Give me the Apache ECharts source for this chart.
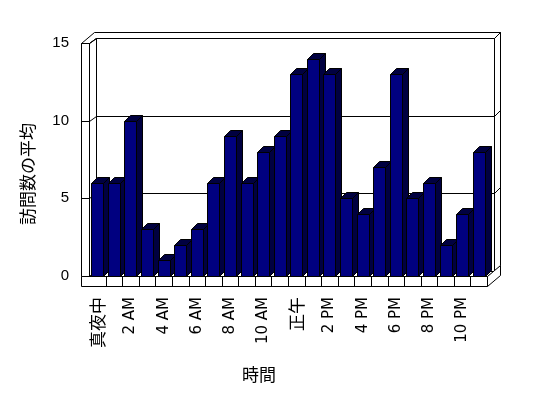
<!DOCTYPE html>
<html>
<head>
<meta charset="utf-8">
<script src="https://cdn.jsdelivr.net/npm/echarts@6/dist/echarts.min.js"></script>
<style>
html,body{margin:0;padding:0;background:#fff;}
#c{width:548px;height:398px;}
</style>
</head>
<body>
<div id="c"></div>
<script>
// ---- data ----
const categories = ['真夜中','1 AM','2 AM','3 AM','4 AM','5 AM','6 AM','7 AM','8 AM','9 AM','10 AM','11 AM',
                    '正午','1 PM','2 PM','3 PM','4 PM','5 PM','6 PM','7 PM','8 PM','9 PM','10 PM','11 PM'];
const visits = [6,6,10,3,1,2,3,6,9,6,8,9,13,14,13,5,4,7,13,5,6,2,4,8];
const yTicks = [0,5,10,15];
const xTitle = '時間';
const yTitle = '訪問数の平均';

// ---- drawing ----
const chart = echarts.init(document.getElementById('c'), null, {renderer:'canvas'});
const LINE = {stroke:'#000', lineWidth:1};
const WALL_B = [7, -5];    // back wall front plane offset
const WALL_B2 = [13, -11]; // back wall back plane offset
const WALL_T = 8;          // left wall thickness
const FLOOR_T = 10;        // floor thickness
const BAR_D = 6;           // bar depth
const BAR_W = 12;

function framePieces(params, api) {
  const cs = params.coordSys;
  const gx = Math.round(cs.x) + 0.5, gy = Math.round(cs.y) + 0.5;
  const gr = Math.round(cs.x + cs.width) + 0.5, gb = Math.round(cs.y + cs.height) + 0.5;
  const [bx, by] = WALL_B, [b2x, b2y] = WALL_B2;
  const W = WALL_T, T = FLOOR_T;
  const ch = [];
  const poly = (pts, fill) => ch.push({type:'polygon', shape:{points:pts}, style:Object.assign({fill:fill||'#fff'}, LINE)});
  const line = (x1,y1,x2,y2) => ch.push({type:'line', shape:{x1,y1,x2,y2}, style:LINE});
  poly([[gx+bx,gy+by],[gr+bx,gy+by],[gr+bx,gb+by],[gx+bx,gb+by]]);
  poly([[gr+bx,gy+by],[gr+b2x,gy+b2y],[gr+b2x,gb+b2y],[gr+bx,gb+by]]);
  poly([[gx-W,gy],[gx-W+b2x,gy+b2y],[gr+b2x,gy+b2y],[gr+bx,gy+by],[gx+bx,gy+by],[gx,gy]]);
  poly([[gx,gy],[gx+bx,gy+by],[gx+bx,gb+by],[gx,gb]]);
  poly([[gx-W,gy],[gx,gy],[gx,gb],[gx-W,gb]]);
  yTicks.forEach(v => {
    if (v === 0) return;
    const yy = Math.round(api.coord([0, v])[1]) + 0.5;
    line(gx-W, yy, gx, yy);
    line(gx, yy, gx+bx, yy+by);
    line(gx+bx, yy+by, gr+bx, yy+by);
    line(gr+bx, yy+by, gr+b2x, yy+b2y);
  });
  poly([[gx,gb],[gr,gb],[gr+bx,gb+by],[gx+bx,gb+by]]);
  poly([[gr,gb],[gr+b2x,gb+b2y],[gr+b2x,gb+T+b2y],[gr,gb+T]]);
  poly([[gx-W,gb],[gr,gb],[gr,gb+T],[gx-W,gb+T]]);
  const n = categories.length;
  for (let k = 1; k < n; k++) {
    const xx = Math.round(cs.x + cs.width * k / n) + 0.5;
    line(xx, gb, xx, gb+T);
  }
  return {type:'group', children:ch};
}

function barPieces(params, api) {
  const i = api.value(0), v = api.value(1);
  const top = api.coord([i, v]), base = api.coord([i, 0]);
  const xl = Math.round(top[0] - BAR_W/2) + 0.5, xr = xl + BAR_W;
  const yt = Math.round(top[1]) + 0.5, yb = Math.round(base[1]) + 0.5;
  const d = BAR_D;
  const dark = {fill:'#000040', stroke:'#000', lineWidth:1};
  return {type:'group', children:[
    {type:'polygon', shape:{points:[[xr,yt],[xr+d,yt-d],[xr+d,yb-d],[xr,yb]]}, style:dark},
    {type:'polygon', shape:{points:[[xl,yt],[xl+d,yt-d],[xr+d,yt-d],[xr,yt]]}, style:dark},
    {type:'rect', shape:{x:xl, y:yt, width:BAR_W, height:yb-yt}, style:{fill:'#000080', stroke:'#000', lineWidth:1}}
  ]};
}

chart.setOption({
  animation:false,
  backgroundColor:'#fff',
  grid:{left:89, right:61, top:43, bottom:122, containLabel:false},
  xAxis:{
    type:'category', data:categories, boundaryGap:true,
    axisLine:{show:false}, axisTick:{show:false}, splitLine:{show:false},
    axisLabel:{interval:1, rotate:90, margin:21, color:'#000', fontSize:15,
               fontFamily:"'DejaVu Sans','Noto Sans CJK JP',sans-serif",
               formatter:(val) => /[^\x00-\x7f]/.test(val) ? '{cjk|' + val + '}' : val,
               rich:{cjk:{fontSize:17, fontFamily:"'Noto Sans CJK JP'", color:'#000'}}}
  },
  yAxis:{
    type:'value', min:0, max:15, interval:5,
    axisLine:{show:false}, axisTick:{show:false}, splitLine:{show:false},
    axisLabel:{margin:20, color:'#000', fontSize:15, fontFamily:"'Liberation Sans',sans-serif"}
  },
  graphic:[
    {type:'text', x:259, y:375, style:{text:xTitle, fill:'#000', font:"17px 'Noto Sans CJK JP'", align:'center', verticalAlign:'middle'}},
    {type:'text', x:28, y:174, rotation:Math.PI/2, style:{text:yTitle, fill:'#000', font:"17px 'Noto Sans CJK JP'", align:'center', verticalAlign:'middle'}}
  ],
  series:[
    {type:'custom', name:'frame', silent:true, data:[[0,0]], encode:{x:0,y:1}, renderItem:framePieces, z:1},
    {type:'custom', name:'訪問数', data:visits.map((v,i)=>[i,v]), encode:{x:0,y:1}, renderItem:barPieces, z:2}
  ]
});
</script>
</body>
</html>
